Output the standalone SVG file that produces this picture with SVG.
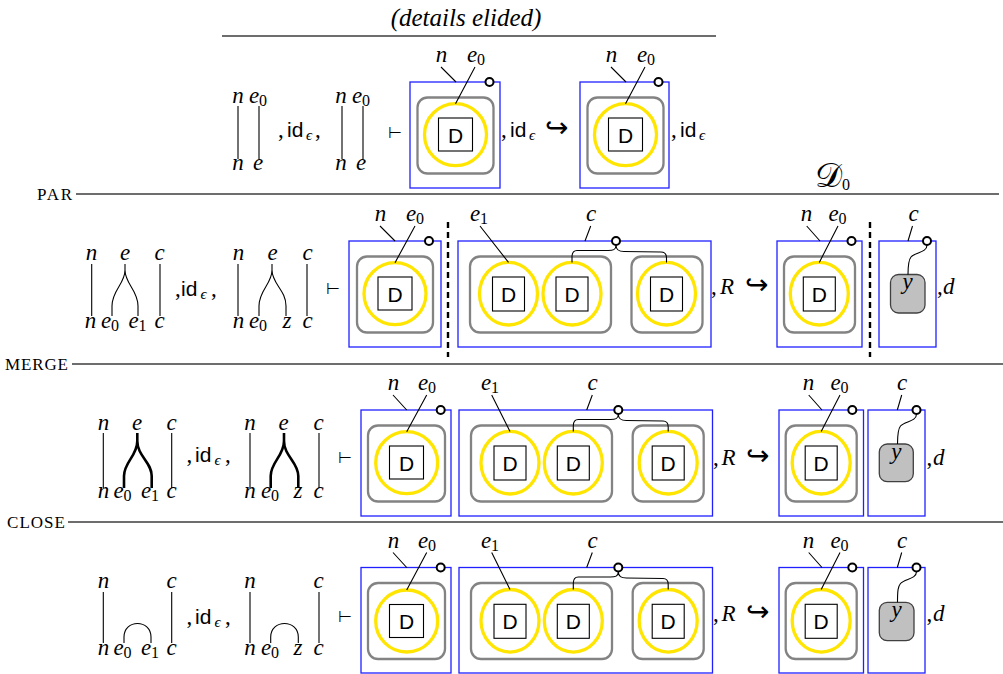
<svg xmlns="http://www.w3.org/2000/svg" width="1003" height="674" viewBox="0 0 1003 674">
<style>
.rule{stroke:#3c3c3c;stroke-width:1.3;fill:none}
.bx{fill:none;stroke:#2020ff;stroke-width:1.3}
.gr{fill:none;stroke:#838383;stroke-width:2.3}
.yl{fill:none;stroke:#ffe500;stroke-width:3.3}
.sq{fill:#fff;stroke:#000;stroke-width:1.1}
.kn{fill:#fff;stroke:#000;stroke-width:2}
.w{fill:none;stroke:#000;stroke-width:1.1}
.wt{fill:none;stroke:#000;stroke-width:2.6}
.dash{stroke:#000;stroke-width:2.4;stroke-dasharray:6 4}
.yn{fill:#c0c0c0;stroke:#404040;stroke-width:1.3}
text{fill:#000}
</style>
<rect width="1003" height="674" fill="#fff"/>

<g id="rules" font-family="Liberation Serif">
<text x="466" y="26" font-style="italic" font-size="25" text-anchor="middle">(details elided)</text>
<line class="rule" x1="222" y1="36" x2="716" y2="36"/>
<text x="37" y="199.5" font-size="17" textLength="35">PAR</text>
<line class="rule" x1="76" y1="194" x2="999" y2="194"/>
<text x="5" y="369.5" font-size="17" textLength="63">MERGE</text>
<line class="rule" x1="72" y1="364" x2="1003" y2="364"/>
<text x="7" y="527.5" font-size="17" textLength="58">CLOSE</text>
<line class="rule" x1="68" y1="522" x2="1003" y2="522"/>
<text x="815" y="187"><tspan font-size="34">𝒟</tspan><tspan font-size="16" dy="3">0</tspan></text>
<line class="dash" x1="448" y1="222" x2="448" y2="357"/>
<line class="dash" x1="870" y1="222" x2="870" y2="357"/>
</g>

<g id="top-left" font-family="Liberation Serif" font-style="italic" font-size="23" text-anchor="middle">
<text x="238" y="103">n</text>
<text x="258" y="103">e<tspan font-size="16" font-style="normal" dy="3">0</tspan></text>
<text x="238" y="170">n</text>
<text x="258" y="170">e</text>
<path class="w" d="M238,106V159M259,106V159"/>
<text y="137" text-anchor="start" font-style="normal"><tspan x="278">,</tspan><tspan x="287" font-family="Liberation Sans" font-size="21">id</tspan><tspan x="306" dy="3" font-style="italic" font-size="15">ϵ</tspan><tspan x="315" dy="-3">,</tspan></text>
<text x="341" y="103">n</text>
<text x="361" y="103">e<tspan font-size="16" font-style="normal" dy="3">0</tspan></text>
<text x="341" y="170">n</text>
<text x="361" y="170">e</text>
<path class="w" d="M342,106V159M363,106V159"/>
<text x="388" y="138" text-anchor="start" font-style="normal" font-size="16">⊢</text>
<text y="137" text-anchor="start" font-style="normal"><tspan x="501">,</tspan><tspan x="510" font-family="Liberation Sans" font-size="21">id</tspan><tspan x="529" dy="3" font-style="italic" font-size="15">ϵ</tspan><tspan x="545" dy="-3" font-size="28">↪</tspan></text>
<text y="137" text-anchor="start" font-style="normal"><tspan x="671">,</tspan><tspan x="680" font-family="Liberation Sans" font-size="21">id</tspan><tspan x="699" dy="3" font-style="italic" font-size="15">ϵ</tspan></text>
</g>

<g id="par-left" font-family="Liberation Serif" font-style="italic" font-size="23" text-anchor="middle">
<text x="91.5" y="260">n</text>
<text x="125" y="260">e</text>
<text x="159.5" y="260">c</text>
<text x="90.5" y="328">n</text>
<text x="110" y="328">e<tspan font-size="16" font-style="normal" dy="3">0</tspan></text>
<text x="137.5" y="328">e<tspan font-size="16" font-style="normal" dy="3">1</tspan></text>
<text x="159.5" y="328">c</text>
<path class="w" d="M91.7,264V316M160,264V316M125,264V270C125,284 112,290 112,306V316M125,270C125,284 138,290 138,306V316"/>
<text y="296" text-anchor="start" font-style="normal"><tspan x="175">,</tspan><tspan x="181" font-family="Liberation Sans" font-size="21">id</tspan><tspan x="200.5" dy="3" font-style="italic" font-size="15">ϵ</tspan><tspan x="211" dy="-3">,</tspan></text>
<text x="238.5" y="260">n</text>
<text x="272.5" y="260">e</text>
<text x="307.5" y="260">c</text>
<text x="238.5" y="328">n</text>
<text x="258" y="328">e<tspan font-size="16" font-style="normal" dy="3">0</tspan></text>
<text x="287" y="328">z</text>
<text x="307.5" y="328">c</text>
<path class="w" d="M238,264V316M307,264V316M272,264V270C272,284 259,290 259,306V316M272,270C272,284 286,290 286,306V316"/>
<text x="326" y="293.5" text-anchor="start" font-style="normal" font-size="16">⊢</text>
<text y="294" text-anchor="start"><tspan x="711" font-style="normal">,</tspan><tspan x="720">R</tspan><tspan x="745" font-style="normal" font-size="28">↪</tspan></text>
<text y="294" text-anchor="start"><tspan x="937" font-style="normal">,</tspan><tspan x="943">d</tspan></text>
</g>

<g id="merge-left" font-family="Liberation Serif" font-style="italic" font-size="23" text-anchor="middle">
<text x="103.5" y="430">n</text>
<text x="137" y="430">e</text>
<text x="171.5" y="430">c</text>
<text x="103.5" y="498">n</text>
<text x="122.5" y="498">e<tspan font-size="16" font-style="normal" dy="3">0</tspan></text>
<text x="150" y="498">e<tspan font-size="16" font-style="normal" dy="3">1</tspan></text>
<text x="171.5" y="498">c</text>
<path class="w" d="M103.3,433V488M171.7,433V488"/>
<path class="wt" d="M137.3,433V441C137.3,456 124,462 124,476V488M137.3,441C137.3,456 151.7,462 151.7,476V488"/>
<text y="462" text-anchor="start" font-style="normal"><tspan x="186.5">,</tspan><tspan x="195" font-family="Liberation Sans" font-size="21">id</tspan><tspan x="214.5" dy="3" font-style="italic" font-size="15">ϵ</tspan><tspan x="225" dy="-3">,</tspan></text>
<text x="250" y="430">n</text>
<text x="283.5" y="430">e</text>
<text x="318.5" y="430">c</text>
<text x="250" y="498">n</text>
<text x="270" y="498">e<tspan font-size="16" font-style="normal" dy="3">0</tspan></text>
<text x="298" y="498">z</text>
<text x="318.5" y="498">c</text>
<path class="w" d="M250,433V488M319,433V488"/>
<path class="wt" d="M284,433V441C284,456 270.7,462 270.7,476V488M284,441C284,456 298.3,462 298.3,476V488"/>
<text x="338" y="463" text-anchor="start" font-style="normal" font-size="16">⊢</text>
<text y="465" text-anchor="start"><tspan x="713" font-style="normal">,</tspan><tspan x="721.5">R</tspan><tspan x="746" font-style="normal" font-size="28">↪</tspan></text>
<text y="465" text-anchor="start"><tspan x="926.5" font-style="normal">,</tspan><tspan x="933">d</tspan></text>
</g>

<g id="close-left" font-family="Liberation Serif" font-style="italic" font-size="23" text-anchor="middle">
<text x="103.5" y="588">n</text>
<text x="171.5" y="588">c</text>
<text x="103.5" y="655">n</text>
<text x="122.5" y="655">e<tspan font-size="16" font-style="normal" dy="3">0</tspan></text>
<text x="150" y="655">e<tspan font-size="16" font-style="normal" dy="3">1</tspan></text>
<text x="171.5" y="655">c</text>
<path class="w" d="M103.3,592V643M171.7,592V643M124,643V637C124,619 151,619 151,637V643"/>
<text y="624" text-anchor="start" font-style="normal"><tspan x="186.5">,</tspan><tspan x="195" font-family="Liberation Sans" font-size="21">id</tspan><tspan x="214.5" dy="3" font-style="italic" font-size="15">ϵ</tspan><tspan x="225" dy="-3">,</tspan></text>
<text x="250" y="588">n</text>
<text x="318.5" y="588">c</text>
<text x="250" y="655">n</text>
<text x="270" y="655">e<tspan font-size="16" font-style="normal" dy="3">0</tspan></text>
<text x="298" y="655">z</text>
<text x="318.5" y="655">c</text>
<path class="w" d="M250,592V643M319,592V643M270.7,643V637C270.7,619 298.3,619 298.3,637V643"/>
<text x="338" y="621.5" text-anchor="start" font-style="normal" font-size="16">⊢</text>
<text y="621" text-anchor="start"><tspan x="713" font-style="normal">,</tspan><tspan x="721.5">R</tspan><tspan x="746" font-style="normal" font-size="28">↪</tspan></text>
<text y="621" text-anchor="start"><tspan x="926.5" font-style="normal">,</tspan><tspan x="933">d</tspan></text>
</g>

<g id="top-box-1" transform="translate(410,82)" font-family="Liberation Serif" font-style="italic" font-size="23" text-anchor="middle">
<rect class="bx" width="90" height="106"/>
<rect class="gr" x="7.5" y="15.5" width="76" height="76" rx="10"/>
<circle class="yl" cx="45.5" cy="52.7" r="31"/>
<rect class="sq" x="28.5" y="36" width="34" height="33"/>
<text x="45.5" y="60.5" font-family="Liberation Sans" font-style="normal" font-size="21">D</text>
<circle class="kn" cx="79.5" cy="0" r="4"/>
<text x="31.5" y="-20">n</text>
<text x="66" y="-20">e<tspan font-size="16" font-style="normal" dy="3">0</tspan></text>
</g>
<g id="top-box-2" transform="translate(580,82)" font-family="Liberation Serif" font-style="italic" font-size="23" text-anchor="middle">
<rect class="bx" width="89" height="106"/>
<rect class="gr" x="7.5" y="15.5" width="76" height="76" rx="10"/>
<circle class="yl" cx="45.5" cy="52.7" r="31"/>
<rect class="sq" x="28.5" y="36" width="34" height="33"/>
<text x="45.5" y="60.5" font-family="Liberation Sans" font-style="normal" font-size="21">D</text>
<circle class="kn" cx="78.5" cy="0" r="4"/>
<text x="31.5" y="-20">n</text>
<text x="66" y="-20">e<tspan font-size="16" font-style="normal" dy="3">0</tspan></text>
</g>

<g id="par-box-1" transform="translate(349,241)" font-family="Liberation Serif" font-style="italic" font-size="23" text-anchor="middle">
<rect class="bx" width="92" height="106"/>
<rect class="gr" x="8" y="15.5" width="76" height="76" rx="10"/>
<circle class="yl" cx="46" cy="52.7" r="31"/>
<rect class="sq" x="29" y="36" width="34" height="33"/>
<text x="46" y="60.5" font-family="Liberation Sans" font-style="normal" font-size="21">D</text>
<circle class="kn" cx="80" cy="0" r="4"/>
<text x="31.5" y="-20">n</text>
<text x="66" y="-20">e<tspan font-size="16" font-style="normal" dy="3">0</tspan></text>
</g>
<g id="par-box-2" transform="translate(458,241)" font-family="Liberation Serif" font-style="italic" font-size="23" text-anchor="middle">
<rect class="bx" width="253" height="106"/>
<rect class="gr" x="12" y="15.5" width="141" height="76" rx="10"/>
<rect class="gr" x="173.5" y="15.5" width="71" height="76" rx="10"/>
<ellipse class="yl" cx="50.5" cy="52.7" rx="29" ry="31.3"/>
<ellipse class="yl" cx="114" cy="52.7" rx="29" ry="31.3"/>
<ellipse class="yl" cx="208.5" cy="52.7" rx="29" ry="31.3"/>
<rect class="sq" x="34.5" y="36" width="32" height="34"/>
<rect class="sq" x="98" y="36" width="32" height="34"/>
<rect class="sq" x="192.5" y="36" width="32" height="34"/>
<g font-family="Liberation Sans" font-style="normal" font-size="21">
<text x="50.5" y="60.5">D</text>
<text x="114" y="60.5">D</text>
<text x="208.5" y="60.5">D</text>
</g>
<circle class="kn" cx="158" cy="0" r="4"/>
<text x="21" y="-20">e<tspan font-size="16" font-style="normal" dy="3">1</tspan></text>
<text x="133" y="-20">c</text>
</g>
<g id="par-box-3" transform="translate(777,241)" font-family="Liberation Serif" font-style="italic" font-size="23" text-anchor="middle">
<rect class="bx" width="85" height="106"/>
<rect class="gr" x="7" y="15.5" width="71" height="76" rx="10"/>
<ellipse class="yl" cx="42.3" cy="52.7" rx="29" ry="31.3"/>
<rect class="sq" x="26.3" y="36" width="32" height="34"/>
<text x="42.3" y="60.5" font-family="Liberation Sans" font-style="normal" font-size="21">D</text>
<circle class="kn" cx="74.5" cy="0" r="4"/>
<text x="29.5" y="-20">n</text>
<text x="60.5" y="-20">e<tspan font-size="16" font-style="normal" dy="3">0</tspan></text>
</g>
<g id="par-box-4" transform="translate(879,241)" font-family="Liberation Serif" font-style="italic" font-size="23" text-anchor="middle">
<rect class="bx" width="57" height="106"/>
<rect class="yn" x="11.5" y="33.5" width="34.5" height="38.5" rx="8"/>
<text x="28.7" y="48">y</text>
<circle class="kn" cx="48" cy="0" r="4"/>
<text x="34.5" y="-20">c</text>
</g>

<g id="merge-box-1" transform="translate(361,410)" font-family="Liberation Serif" font-style="italic" font-size="23" text-anchor="middle">
<rect class="bx" width="90" height="106"/>
<rect class="gr" x="7" y="15.5" width="77" height="76" rx="10"/>
<circle class="yl" cx="45.7" cy="52.7" r="31"/>
<rect class="sq" x="28.5" y="36" width="34" height="33"/>
<text x="45.7" y="60.5" font-family="Liberation Sans" font-style="normal" font-size="21">D</text>
<circle class="kn" cx="79.7" cy="0" r="4"/>
<text x="32.5" y="-20">n</text>
<text x="66" y="-20">e<tspan font-size="16" font-style="normal" dy="3">0</tspan></text>
</g>
<g id="merge-box-2" transform="translate(459,410)" font-family="Liberation Serif" font-style="italic" font-size="23" text-anchor="middle">
<rect class="bx" width="253.5" height="106"/>
<rect class="gr" x="12" y="15.5" width="141" height="76" rx="10"/>
<rect class="gr" x="173.7" y="15.5" width="71" height="76" rx="10"/>
<ellipse class="yl" cx="51" cy="52.7" rx="29" ry="31.3"/>
<ellipse class="yl" cx="114.3" cy="52.7" rx="29" ry="31.3"/>
<ellipse class="yl" cx="209.2" cy="52.7" rx="29" ry="31.3"/>
<rect class="sq" x="35" y="36" width="32" height="34"/>
<rect class="sq" x="98.3" y="36" width="32" height="34"/>
<rect class="sq" x="193.2" y="36" width="32" height="34"/>
<g font-family="Liberation Sans" font-style="normal" font-size="21">
<text x="51" y="60.5">D</text>
<text x="114.3" y="60.5">D</text>
<text x="209.2" y="60.5">D</text>
</g>
<circle class="kn" cx="159.3" cy="0" r="4"/>
<text x="31" y="-20">e<tspan font-size="16" font-style="normal" dy="3">1</tspan></text>
<text x="133.5" y="-20">c</text>
</g>
<g id="merge-box-3" transform="translate(779,410)" font-family="Liberation Serif" font-style="italic" font-size="23" text-anchor="middle">
<rect class="bx" width="84.5" height="106"/>
<rect class="gr" x="6.7" y="15.5" width="71" height="76" rx="10"/>
<ellipse class="yl" cx="42.2" cy="52.7" rx="29" ry="31.3"/>
<rect class="sq" x="26.2" y="36" width="32" height="34"/>
<text x="42.2" y="60.5" font-family="Liberation Sans" font-style="normal" font-size="21">D</text>
<circle class="kn" cx="73.3" cy="0" r="4"/>
<text x="29.5" y="-20">n</text>
<text x="60.5" y="-20">e<tspan font-size="16" font-style="normal" dy="3">0</tspan></text>
</g>
<g id="merge-box-4" transform="translate(868,410)" font-family="Liberation Serif" font-style="italic" font-size="23" text-anchor="middle">
<rect class="bx" width="57" height="106"/>
<rect class="yn" x="11.3" y="34" width="34" height="37.7" rx="8"/>
<text x="28.3" y="48.5">y</text>
<circle class="kn" cx="48.5" cy="0" r="4"/>
<text x="34" y="-20">c</text>
</g>

<g id="close-box-1" transform="translate(361,567.5)" font-family="Liberation Serif" font-style="italic" font-size="23" text-anchor="middle">
<rect class="bx" width="90" height="105.5"/>
<rect class="gr" x="7" y="15.5" width="77" height="76" rx="10"/>
<circle class="yl" cx="45.7" cy="53.5" r="31"/>
<rect class="sq" x="28.5" y="37" width="34" height="33"/>
<text x="45.7" y="61.5" font-family="Liberation Sans" font-style="normal" font-size="21">D</text>
<circle class="kn" cx="79.7" cy="0" r="4"/>
<text x="32.5" y="-20">n</text>
<text x="66" y="-20">e<tspan font-size="16" font-style="normal" dy="3">0</tspan></text>
</g>
<g id="close-box-2" transform="translate(459,567.5)" font-family="Liberation Serif" font-style="italic" font-size="23" text-anchor="middle">
<rect class="bx" width="253.5" height="105.5"/>
<rect class="gr" x="12" y="15.5" width="141" height="76" rx="10"/>
<rect class="gr" x="173.7" y="15.5" width="71" height="76" rx="10"/>
<ellipse class="yl" cx="51" cy="53.3" rx="29" ry="31.3"/>
<ellipse class="yl" cx="114.3" cy="53.3" rx="29" ry="31.3"/>
<ellipse class="yl" cx="209.2" cy="53.3" rx="29" ry="31.3"/>
<rect class="sq" x="35" y="36.8" width="32" height="34"/>
<rect class="sq" x="98.3" y="36.8" width="32" height="34"/>
<rect class="sq" x="193.2" y="36.8" width="32" height="34"/>
<g font-family="Liberation Sans" font-style="normal" font-size="21">
<text x="51" y="61.3">D</text>
<text x="114.3" y="61.3">D</text>
<text x="209.2" y="61.3">D</text>
</g>
<circle class="kn" cx="159.3" cy="0" r="4"/>
<text x="31" y="-20">e<tspan font-size="16" font-style="normal" dy="3">1</tspan></text>
<text x="133.5" y="-20">c</text>
</g>
<g id="close-box-3" transform="translate(779,567.5)" font-family="Liberation Serif" font-style="italic" font-size="23" text-anchor="middle">
<rect class="bx" width="84.5" height="105.5"/>
<rect class="gr" x="6.7" y="15.5" width="71" height="76" rx="10"/>
<ellipse class="yl" cx="42.2" cy="53.3" rx="29" ry="31.3"/>
<rect class="sq" x="26.2" y="36.8" width="32" height="34"/>
<text x="42.2" y="61.3" font-family="Liberation Sans" font-style="normal" font-size="21">D</text>
<circle class="kn" cx="73.3" cy="0" r="4"/>
<text x="29.5" y="-20">n</text>
<text x="60.5" y="-20">e<tspan font-size="16" font-style="normal" dy="3">0</tspan></text>
</g>
<g id="close-box-4" transform="translate(868,567.5)" font-family="Liberation Serif" font-style="italic" font-size="23" text-anchor="middle">
<rect class="bx" width="57" height="105.5"/>
<rect class="yn" x="11.3" y="34.8" width="34.7" height="38.4" rx="8"/>
<text x="28.5" y="49.5">y</text>
<circle class="kn" cx="48.5" cy="0" r="4"/>
<text x="34" y="-20">c</text>
</g>

<g id="connectors" class="w">
<g transform="translate(410,82)"><path d="M31,-15L46,0M65,-15L45.5,21.7"/></g>
<g transform="translate(580,82)"><path d="M31,-15L46,0M65,-15L45.5,21.7"/></g>
<g transform="translate(349,241)"><path d="M31,-15L46,0M66,-15L46,21.7"/></g>
<g transform="translate(458,241)"><path d="M22,-15L50.5,21.4M132.7,-15L127,0M158,4C158,9 155,9.5 150,9.5L119,9.5C115,9.5 114,12 114,16L114,21.4M158,4C158,9 161,10.5 166,10.5L203,11C207,11 208.5,14 208.5,17L208.5,21.4"/></g>
<g transform="translate(777,241)"><path d="M29.7,-15L43,0M61,-15L42.3,21.4"/></g>
<g transform="translate(879,241)"><path d="M33.5,-15L29,0M48,4C48,12 36,11 32,16C29.5,19 29,23 29,33.5"/></g>
<g transform="translate(361,410)"><path d="M32,-15L45.7,0M65.7,-15L45.7,21.7"/></g>
<g transform="translate(459,410)"><path d="M32.7,-15L51,21.4M133.3,-15L127.7,0M159.3,4C159.3,9 156.3,9.5 151.3,9.5L119.3,9.5C115.3,9.5 114.3,12 114.3,16L114.3,21.4M159.3,4C159.3,9 162.3,10.5 167.3,10.5L204,11C208,11 209.2,14 209.2,17L209.2,21.4"/></g>
<g transform="translate(779,410)"><path d="M29.7,-15L43,0M61,-15L42.2,21.4"/></g>
<g transform="translate(868,410)"><path d="M33.7,-15L29.3,0M48.5,4C48.5,12 36.5,11 32.5,16C30,19 29.5,23 29.5,34"/></g>
<g transform="translate(361,567.5)"><path d="M32,-15L45.7,0M65.7,-15L45.7,22.5"/></g>
<g transform="translate(459,567.5)"><path d="M32.7,-15L51,22M133.3,-15L127.7,0M159.3,4C159.3,9 156.3,9.5 151.3,9.5L119.3,9.5C115.3,9.5 114.3,12 114.3,16L114.3,22M159.3,4C159.3,9 162.3,10.5 167.3,10.5L204,11C208,11 209.2,14 209.2,17L209.2,22"/></g>
<g transform="translate(779,567.5)"><path d="M29.7,-15L43,0M61,-15L42.2,22"/></g>
<g transform="translate(868,567.5)"><path d="M33.7,-15L29.3,0M48.5,4C48.5,12 36.5,11 32.5,16C30,19 29.5,23 29.5,34.8"/></g>
</g>
</svg>
